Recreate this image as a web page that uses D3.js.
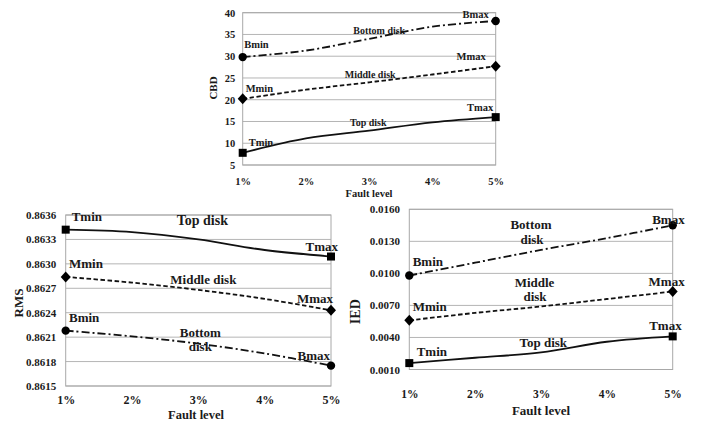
<!DOCTYPE html>
<html>
<head>
<meta charset="utf-8">
<script src="https://cdn.jsdelivr.net/npm/d3@7"></script>
<style>
  html, body { margin: 0; padding: 0; background: #fff; }
  svg { display: block; }
  text { font-family: "Liberation Serif", "Times New Roman", "DejaVu Serif", serif; font-weight: bold; fill: #1a1a1a; }
</style>
</head>
<body>
<svg id="chart" width="706" height="423"></svg>
<script>
// Fault levels shared by all three panels
const faultLevels = ["1%", "2%", "3%", "4%", "5%"];

// CBD per disk
const cbdTop    = [7.8, 11.1, 12.9, 14.8, 16.0];
const cbdMiddle = [20.2, 22.3, 24.0, 25.8, 27.7];
const cbdBottom = [29.8, 31.3, 34.0, 36.8, 38.1];
const cbdTicks  = [5, 10, 15, 20, 25, 30, 35, 40];

// RMS per disk
const rmsTop    = [0.86342, 0.86339, 0.86330, 0.86317, 0.86309];
const rmsMiddle = [0.86284, 0.86277, 0.86268, 0.86257, 0.86243];
const rmsBottom = [0.86218, 0.86211, 0.86202, 0.86190, 0.86175];
const rmsTicks  = [0.8615, 0.8618, 0.8621, 0.8624, 0.8627, 0.8630, 0.8633, 0.8636];

// IED per disk
const iedTop    = [0.0016, 0.0021, 0.0026, 0.0036, 0.0041];
const iedMiddle = [0.0056, 0.0063, 0.0069, 0.0076, 0.0083];
const iedBottom = [0.0098, 0.0110, 0.0122, 0.0133, 0.0145];
const iedTicks  = [0.0010, 0.0040, 0.0070, 0.0100, 0.0130, 0.0160];

const FONT = '"Liberation Serif", "Times New Roman", "DejaVu Serif", serif';
const svg = d3.select("#chart");

const lineStyles = {
  top:    { dash: null,      marker: "square"  },
  middle: { dash: "4.5,2.5", marker: "diamond" },
  bottom: { dash: "8,3,2,3", marker: "circle"  }
};

function drawPanel(p) {
  const g = svg.append("g");
  const x = d3.scalePoint().domain(faultLevels).range([p.left, p.right]);
  const y = d3.scaleLinear().domain([d3.min(p.ticks), d3.max(p.ticks)]).range([p.bottom, p.top]);

  // horizontal gridlines
  g.append("g").selectAll("line").data(p.ticks).join("line")
    .attr("x1", p.left).attr("x2", p.right)
    .attr("y1", d => y(d)).attr("y2", d => y(d))
    .attr("stroke", "#b5b5b5").attr("stroke-width", 1);

  // plot frame
  g.append("rect")
    .attr("x", p.left).attr("y", p.top)
    .attr("width", p.right - p.left).attr("height", p.bottom - p.top)
    .attr("fill", "none").attr("stroke", "#a8a8a8").attr("stroke-width", 1);

  // y axis labels
  const ya = g.append("g").attr("transform", `translate(${p.left},0)`)
    .call(d3.axisLeft(y).tickValues(p.ticks).tickFormat(p.fmt).tickSize(0).tickPadding(p.yPad));
  ya.attr("font-family", null);
  ya.select(".domain").remove();
  ya.selectAll("text").style("font-size", p.tickFont + "px").attr("fill", "#1a1a1a")
    .style("font-family", FONT).style("font-weight", "bold");

  // x axis labels
  const xa = g.append("g").attr("transform", `translate(0,${p.xLabelY})`)
    .call(d3.axisBottom(x).tickSize(0).tickPadding(0));
  xa.attr("font-family", null);
  xa.select(".domain").remove();
  xa.selectAll("text").attr("y", 0).attr("dy", "0.35em")
    .style("font-size", p.xTickFont + "px").attr("fill", "#1a1a1a")
    .style("font-family", FONT).style("font-weight", "bold");

  // axis titles
  g.append("text").attr("x", p.xTitleX).attr("y", p.xTitleY).attr("dy", "0.35em")
    .attr("text-anchor", "middle").style("font-size", p.xTitleFont + "px").text("Fault level");
  g.append("text").attr("transform", `translate(${p.yTitleX},${p.yTitleY}) rotate(-90)`)
    .attr("dy", "0.35em").attr("text-anchor", "middle")
    .style("font-size", p.yTitleFont + "px").text(p.yTitle);

  // smoothed series lines
  const line = d3.line()
    .x((d, i) => x(faultLevels[i]))
    .y(d => y(d))
    .curve(d3.curveCatmullRom.alpha(0.5));

  Object.entries(p.series).forEach(([key, vals]) => {
    const st = lineStyles[key];
    g.append("path").datum(vals)
      .attr("d", line)
      .attr("fill", "none").attr("stroke", "#111")
      .attr("stroke-width", 1.8)
      .attr("stroke-dasharray", st.dash);

    // markers only at the end points
    [0, vals.length - 1].forEach(i => {
      const cx = x(faultLevels[i]), cy = y(vals[i]);
      if (st.marker === "square") {
        g.append("rect").attr("x", cx - 4).attr("y", cy - 4).attr("width", 8).attr("height", 8).attr("fill", "#000");
      } else if (st.marker === "diamond") {
        g.append("path").attr("d", `M${cx},${cy - 5.5}L${cx + 5},${cy}L${cx},${cy + 5.5}L${cx - 5},${cy}Z`).attr("fill", "#000");
      } else {
        g.append("circle").attr("cx", cx).attr("cy", cy).attr("r", 4.2).attr("fill", "#000");
      }
    });
  });

  // end-point and disk labels, anchored on the data
  p.notes.forEach(n => {
    const vals = p.series[n.s];
    g.append("text")
      .attr("x", x(faultLevels[n.i]) + n.dx)
      .attr("y", y(vals[n.i]) + n.dy)
      .attr("dy", "0.35em")
      .attr("text-anchor", n.a || "start")
      .style("font-size", (n.f || p.noteFont) + "px")
      .text(n.t);
  });
}

drawPanel({
  left: 242.7, right: 495.7, top: 12.7, bottom: 165,
  ticks: cbdTicks, fmt: d3.format("d"), yPad: 7.5, tickFont: 10.5, xTickFont: 10.5,
  xLabelY: 181.5, xTitleX: 369, xTitleY: 193, xTitleFont: 10.5,
  yTitle: "CBD", yTitleX: 213, yTitleY: 88, yTitleFont: 11,
  noteFont: 10.5,
  series: { top: cbdTop, middle: cbdMiddle, bottom: cbdBottom },
  notes: [
    { t: "Bmin", s: "bottom", i: 0, dx: 1.5, dy: -13 },
    { t: "Bmax", s: "bottom", i: 4, dx: -7, dy: -7, a: "end" },
    { t: "Bottom disk", s: "bottom", i: 2, dx: 10, dy: -8, a: "middle", f: 10 },
    { t: "Mmin", s: "middle", i: 0, dx: 3, dy: -10.5 },
    { t: "Mmax", s: "middle", i: 4, dx: -10, dy: -9.5, a: "end" },
    { t: "Middle disk", s: "middle", i: 2, dx: 1, dy: -7.5, a: "middle", f: 10 },
    { t: "Tmin", s: "top", i: 0, dx: 6, dy: -10 },
    { t: "Tmax", s: "top", i: 4, dx: -2.5, dy: -10, a: "end" },
    { t: "Top disk", s: "top", i: 2, dx: -1, dy: -8, a: "middle", f: 10 }
  ]
});

drawPanel({
  left: 65.7, right: 331, top: 215, bottom: 386,
  ticks: rmsTicks, fmt: d3.format(".4f"), yPad: 9.5, tickFont: 11, xTickFont: 12,
  xLabelY: 400, xTitleX: 196, xTitleY: 415, xTitleFont: 12.5,
  yTitle: "RMS", yTitleX: 18.5, yTitleY: 303, yTitleFont: 13,
  noteFont: 13,
  series: { top: rmsTop, middle: rmsMiddle, bottom: rmsBottom },
  notes: [
    { t: "Tmin", s: "top", i: 0, dx: 6, dy: -13 },
    { t: "Tmax", s: "top", i: 4, dx: 7, dy: -10, a: "end" },
    { t: "Top disk", s: "top", i: 2, dx: 4, dy: -19, a: "middle", f: 14 },
    { t: "Mmin", s: "middle", i: 0, dx: 3.3, dy: -13.5 },
    { t: "Mmax", s: "middle", i: 4, dx: 2, dy: -12, a: "end" },
    { t: "Middle disk", s: "middle", i: 2, dx: 5, dy: -10, a: "middle" },
    { t: "Bmin", s: "bottom", i: 0, dx: 3.3, dy: -13.3 },
    { t: "Bmax", s: "bottom", i: 4, dx: -1, dy: -10, a: "end" },
    { t: "Bottom", s: "bottom", i: 2, dx: 2, dy: -11, a: "middle" },
    { t: "disk", s: "bottom", i: 2, dx: 2, dy: 3, a: "middle" }
  ]
});

drawPanel({
  left: 409.3, right: 672.7, top: 209.3, bottom: 369.5,
  ticks: iedTicks, fmt: d3.format(".4f"), yPad: 9.3, tickFont: 11, xTickFont: 11.5,
  xLabelY: 394, xTitleX: 541, xTitleY: 410.7, xTitleFont: 13,
  yTitle: "IED", yTitleX: 355, yTitleY: 311.7, yTitleFont: 14,
  noteFont: 13,
  series: { top: iedTop, middle: iedMiddle, bottom: iedBottom },
  notes: [
    { t: "Bmin", s: "bottom", i: 0, dx: 3.4, dy: -13.8 },
    { t: "Bmax", s: "bottom", i: 4, dx: 12, dy: -6, a: "end" },
    { t: "Bottom", s: "bottom", i: 2, dx: -10, dy: -25, a: "middle" },
    { t: "disk", s: "bottom", i: 2, dx: -9, dy: -10, a: "middle" },
    { t: "Mmin", s: "middle", i: 0, dx: 3.4, dy: -13.7 },
    { t: "Mmax", s: "middle", i: 4, dx: 12, dy: -10.5, a: "end" },
    { t: "Middle", s: "middle", i: 2, dx: -6.5, dy: -24, a: "middle" },
    { t: "disk", s: "middle", i: 2, dx: -6, dy: -10, a: "middle" },
    { t: "Tmin", s: "top", i: 0, dx: 7.4, dy: -12 },
    { t: "Tmax", s: "top", i: 4, dx: 9, dy: -11.4, a: "end" },
    { t: "Top disk", s: "top", i: 2, dx: 2.3, dy: -9.7, a: "middle" }
  ]
});
</script>
</body>
</html>
